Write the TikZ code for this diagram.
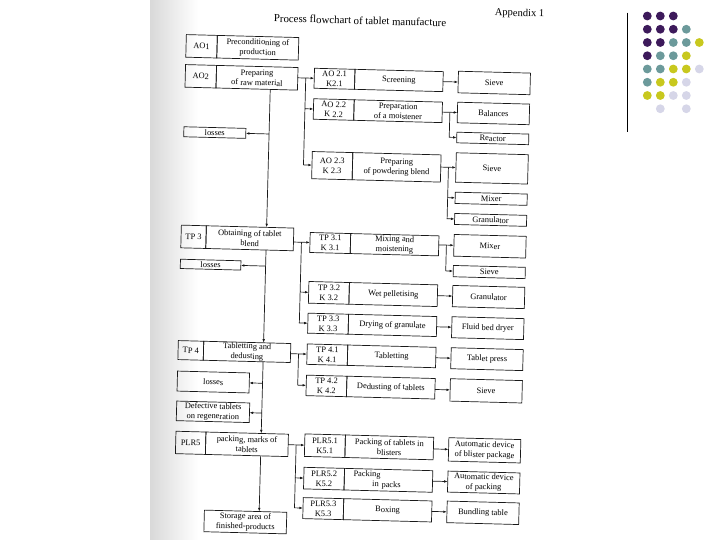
\documentclass[tikz,border=0pt]{standalone}
\usepackage{fontspec}
\setmainfont{Liberation Serif}
\usetikzlibrary{arrows.meta}
\definecolor{dotP}{HTML}{3D1A5B}
\definecolor{dotT}{HTML}{6C9A9B}
\definecolor{dotY}{HTML}{C8C81E}
\definecolor{dotL}{HTML}{D6D6E8}
% name, left, divider, right, top, bottom, code text, description text
\newcommand\twobox[8]{%
  \node[cell, minimum width={(#3)-(#2)}, minimum height={(#6)-(#5)}] (#1c) at ({((#2)+(#3))/2},{((#5)+(#6))/2}) {#7};
  \node[cell, minimum width={(#4)-(#3)}, minimum height={(#6)-(#5)}] (#1) at ({((#3)+(#4))/2},{((#5)+(#6))/2}) {#8};
}
% name, left, right, top, bottom, text
\newcommand\onebox[6]{%
  \node[cell, minimum width={(#3)-(#2)}, minimum height={(#5)-(#4)}] (#1) at ({((#2)+(#3))/2},{((#4)+(#5))/2}) {#6};
}
\begin{document}
\begin{tikzpicture}[x=1pt, y=-1pt,
  cell/.style={draw=black!90, line width=0.7pt, rectangle, inner xsep=1pt, inner ysep=0.5pt,
    outer sep=0pt, align=center, text=black, font=\fontsize{8.4}{10}\selectfont},
  arr/.style={draw=black!90, line width=0.7pt, -{Latex[length=3.6pt,width=2.6pt]}},
  heading/.style={font=\fontsize{10.8}{12}\selectfont, text=black, inner sep=0pt}]
\useasboundingbox (0,0) rectangle (720,540);
\fill[white] (0,0) rectangle (720,540);
% scan shadow at the left edge of the page
\shade[left color=black!15, right color=white] (150,0) rectangle (198,540);

% decorative dots and rule
\draw[line width=1pt, black] (627.3,12.7) -- (627.3,131.7);
\foreach \c/\i/\j in {P/1/1,P/2/1,P/3/1,
  P/1/2,P/2/2,P/3/2,T/4/2,
  P/1/3,P/2/3,T/3/3,T/4/3,Y/5/3,
  P/1/4,T/2/4,T/3/4,Y/4/4,
  T/1/5,T/2/5,Y/3/5,Y/4/5,L/5/5,
  T/1/6,Y/2/6,Y/3/6,L/4/6,
  Y/1/7,Y/2/7,L/3/7,L/4/7,
  L/2/8,L/4/8}
  \fill[dot\c] ({647.3+13*(\i-1)},{16+13.25*(\j-1)}) circle[radius=4.4pt];

\begin{scope}[rotate around={-1.5:(390,280)}, transform shape]
\node[heading] (title) at (353.3,21.3) {Process flowchart of tablet manufacture};
\node[heading, font=\fontsize{10.5}{12}\selectfont] (appx) at (512.6,10.4) {Appendix 1};

\coordinate (trunk) at (265.3,0);
\coordinate (bl) at (300.5,0);
\coordinate (br) at (445.5,0);

% left column
\twobox{ao1}{180}{211}{292.5}{40}{62.6}{AO1}{Preconditioning of\\production}
\twobox{ao2}{180}{211}{292.5}{70}{92.6}{AO2}{Preparing\\of raw material}
\onebox{loss1}{180}{242}{132.2}{142.2}{losses}
\twobox{tp3}{180}{205}{292.5}{230.6}{253.3}{TP 3}{Obtaining of tablet\\blend}
\onebox{loss2}{180}{240.5}{264.7}{274}{losses}
\twobox{tp4}{180}{205.4}{292.5}{346.1}{365.1}{TP 4}{Tabletting and\\dedusting}
\onebox{loss3}{180}{252}{376.6}{396.6}{losses}
\onebox{defect}{180}{253}{406.6}{426.2}{Defective tablets\\on regeneration}
\twobox{plr5}{180}{210}{292.5}{436.8}{459.2}{PLR5}{packing, marks of\\tablets}
\onebox{store}{210.5}{292.9}{514.9}{536.5}{Storage area of\\finished-products}

% middle column
\twobox{ao21}{309}{349.5}{437.8}{70.3}{90.3}{AO 2.1\\K2.1}{Screening}
\twobox{ao22}{309}{349.5}{437.8}{100.8}{121.3}{AO 2.2\\K 2.2}{Preparation\\of a moistener}
\twobox{ao23}{309}{349.5}{437.8}{153.6}{180.8}{AO 2.3\\K 2.3}{Preparing\\of powdering blend}
\twobox{tp31}{309}{349.5}{437.8}{234.6}{254.6}{TP 3.1\\K 3.1}{Mixing and\\moistening}
\twobox{tp32}{309}{349.5}{437.8}{283.6}{305.3}{TP 3.2\\K 3.2}{Wet pelletising}
\twobox{tp33}{309}{349.5}{437.8}{315.3}{335.3}{TP 3.3\\K 3.3}{Drying of granulate}
\twobox{tp41}{309}{349.5}{437.8}{346.1}{366.5}{TP 4.1\\K 4.1}{Tabletting}
\twobox{tp42}{309}{349.5}{437.8}{377.3}{397.8}{TP 4.2\\K 4.2}{Dedusting of tablets}
\twobox{plr51}{309}{349.5}{437.8}{436.1}{458.6}{PLR5.1\\K5.1}{Packing of tablets in\\blisters}
\node[cell, minimum width=40.5, minimum height=21.6] (plr52c) at (329.25,480.3) {PLR5.2\\K5.2};
\node[cell, minimum width=88.3, minimum height=21.6, text width=70pt, align=left] (plr52) at (393.65,480.3) {Packing\\\hspace*{19pt}in packs};
\twobox{plr53}{309}{349.5}{437.8}{499.8}{520.8}{PLR5.3\\K5.3}{Boxing}

% right column
\onebox{sieve1}{453}{525}{69.5}{91.1}{Sieve}
\onebox{bal}{453}{525}{100.5}{121.1}{Balances}
\onebox{react}{453}{525}{130.5}{141.1}{Reactor}
\onebox{sieve2}{453}{525}{151.1}{180.5}{Sieve}
\onebox{mixer1}{453}{525}{190.5}{201.8}{Mixer}
\onebox{gran1}{453}{525}{211.8}{222.8}{Granulator}
\onebox{mixer2}{453}{525}{232.8}{254.5}{Mixer}
\onebox{sieve3}{453}{525}{263.8}{275.1}{Sieve}
\onebox{gran2}{453}{525}{283.8}{305.1}{Granulator}
\onebox{fluid}{453}{525}{315.1}{336.1}{Fluid bed dryer}
\onebox{press}{453}{525}{346.1}{367.1}{Tablet press}
\onebox{sieve4}{453}{525}{377.1}{399.5}{Sieve}
\onebox{blister}{453}{525}{436.1}{459.5}{Automatic device\\of blister package}
\onebox{packdev}{453}{525}{469.5}{490.5}{Automatic device\\of packing}
\onebox{bundle}{453}{525}{499.5}{521.1}{Bundling table}

% main trunk
\draw[arr] (ao2.south -| trunk) -- (tp3.north -| trunk);
\draw[arr] (loss1.east -| trunk) -- (loss1.east);
\draw[arr] (tp3.south -| trunk) -- (tp4.north -| trunk);
\draw[arr] (loss2.east -| trunk) -- (loss2.east);
\draw[arr] (tp4.south -| trunk) -- (plr5.north -| trunk);
\draw[arr] (loss3.east -| trunk) -- (loss3.east);
\draw[arr] (defect.east -| trunk) -- (defect.east);
\draw[arr] (plr5.south -| trunk) -- (store.north -| trunk);

% left branches
\draw[arr] (ao21c.west -| ao2.east) -- (ao21c.west);
\draw[arr] (ao21c.west -| bl) |- (ao22c.west);
\draw[arr] (ao22c.west -| bl) |- (ao23c.west);
\draw[arr] (tp31c.west -| tp3.east) -- (tp31c.west);
\draw[arr] (tp31c.west -| bl) |- (tp32c.west);
\draw[arr] (tp32c.west -| bl) |- (tp33c.west);
\draw[arr] (tp41c.west -| tp4.east) -- (tp41c.west);
\draw[arr] (tp41c.west -| bl) |- (tp42c.west);
\draw[arr] (plr51c.west -| plr5.east) -- (plr51c.west);
\draw[arr] (plr51c.west -| bl) |- (plr52c.west);
\draw[arr] (plr52c.west -| bl) |- (plr53c.west);

% right branches
\draw[arr] (sieve1.west -| ao21.east) -- (sieve1.west);
\draw[arr] (bal.west -| ao22.east) -- (bal.west);
\draw[arr] (bal.west -| br) |- (react.west);
\draw[arr] (sieve2.west -| ao23.east) -- (sieve2.west);
\draw[arr] (sieve2.west -| br) |- (mixer1.west);
\draw[arr] (mixer1.west -| br) |- (gran1.west);
\draw[arr] (mixer2.west -| tp31.east) -- (mixer2.west);
\draw[arr] (mixer2.west -| br) |- (sieve3.west);
\draw[arr] (gran2.west -| tp32.east) -- (gran2.west);
\draw[arr] (fluid.west -| tp33.east) -- (fluid.west);
\draw[arr] (press.west -| tp41.east) -- (press.west);
\draw[arr] (sieve4.west -| tp42.east) -- (sieve4.west);
\draw[arr] (blister.west -| plr51.east) -- (blister.west);
\draw[arr] (packdev.west -| plr52.east) -- (packdev.west);
\draw[arr] (bundle.west -| plr53.east) -- (bundle.west);
\end{scope}
\end{tikzpicture}
\end{document}
